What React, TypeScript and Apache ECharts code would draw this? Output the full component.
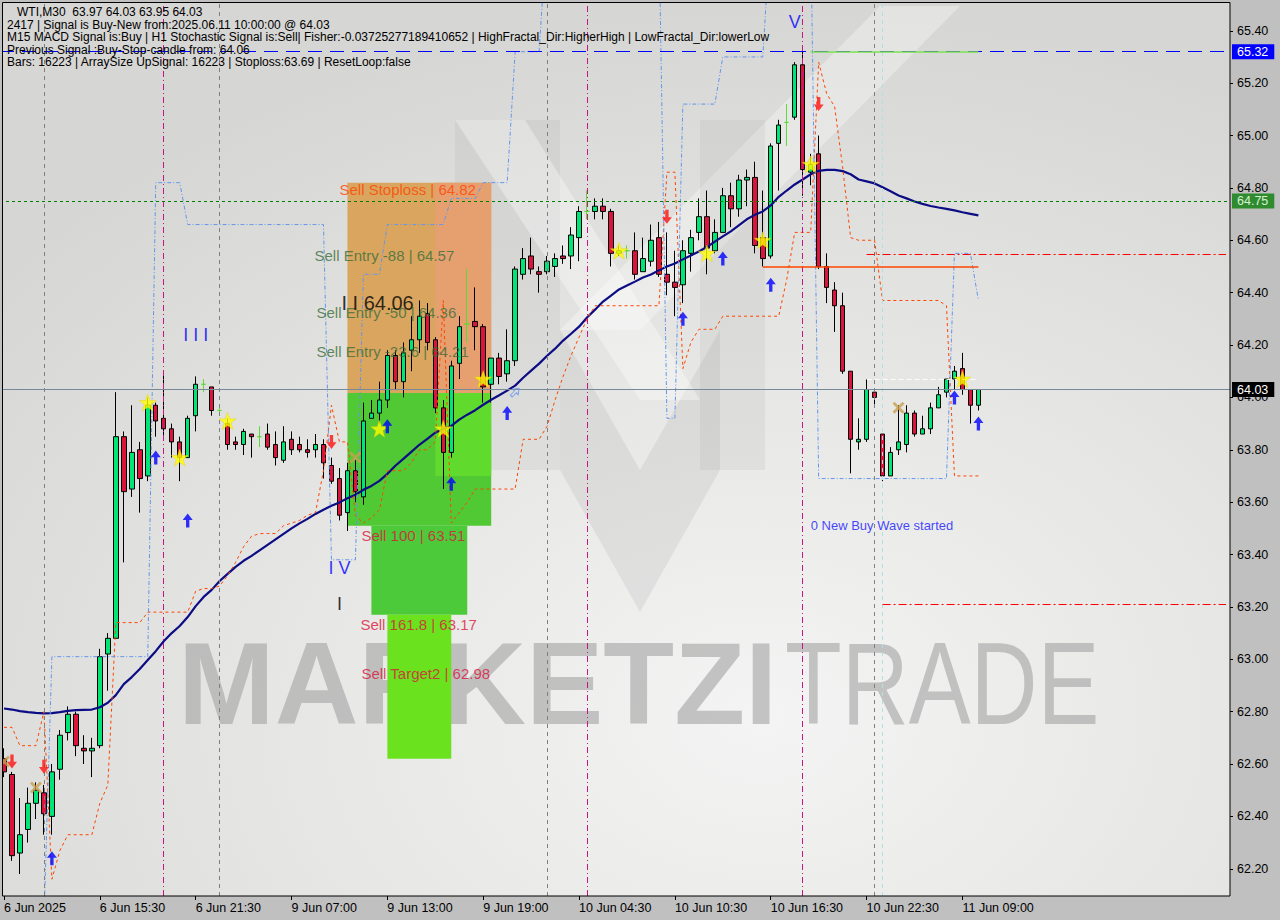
import React, { useEffect, useRef } from 'react';
import * as echarts from 'echarts';

const FONT = '"Liberation Sans", Arial, sans-serif';

// ---- axis data ----
const tickLabels = ['6 Jun 2025', '6 Jun 15:30', '6 Jun 21:30', '9 Jun 07:00', '9 Jun 13:00', '9 Jun 19:00',
  '10 Jun 04:30', '10 Jun 10:30', '10 Jun 16:30', '10 Jun 22:30', '11 Jun 09:00'];
const BARS_PER_TICK = 12;
const SLOT_COUNT = 154;
const Y_MIN = 62.096;
const Y_MAX = 65.506;
const yTicks = [62.2, 62.4, 62.6, 62.8, 63.0, 63.2, 63.4, 63.6, 63.8, 64.0, 64.2, 64.4, 64.6, 64.8, 65.0, 65.2, 65.4];

// ---- candles (WTI, M30) ----
const opens = [
  62.62, 62.56, 62.26, 62.35, 62.45, 62.49, 62.40, 62.58, 62.72, 62.79,
  62.66, 62.65, 62.67, 63.02, 63.08, 63.85, 63.65, 63.80, 63.70, 63.97,
  63.92, 63.88, 63.83, 63.77, 63.93, 64.05, 64.04, 63.95, 63.90, 63.83,
  63.82, 63.86, 63.85, 63.86, 63.82, 63.76, 63.84, 63.82, 63.80, 63.80,
  63.82, 63.74, 63.69, 63.56, 63.72, 63.62, 63.92, 63.94, 63.99, 64.16,
  64.06, 64.18, 64.22, 64.32, 64.22, 63.96, 63.79, 64.13, 64.28, 64.29,
  64.27, 64.05, 64.15, 64.09, 64.14, 64.47, 64.54, 64.48, 64.48, 64.50,
  64.54, 64.54, 64.61, 64.71, 64.71, 64.73, 64.71, 64.55, 64.56, 64.56,
  64.48, 64.52, 64.61, 64.47, 64.44, 64.43, 64.55, 64.63, 64.69, 64.56,
  64.63, 64.77, 64.72, 64.83, 64.84, 64.61, 64.54, 64.97, 65.05, 65.07,
  65.27, 64.86, 64.93, 64.50, 64.41, 64.35, 64.10, 63.83, 63.84, 64.02,
  63.86, 63.70, 63.80, 63.82, 63.94, 63.86, 63.88, 63.96, 64.02, 64.07,
  64.11, 64.03, 63.97];
const closes = [
  62.57, 62.25, 62.33, 62.45, 62.50, 62.41, 62.57, 62.71, 62.79, 62.67,
  62.65, 62.66, 63.01, 63.08, 63.85, 63.64, 63.79, 63.69, 63.97, 63.91,
  63.88, 63.83, 63.77, 63.92, 64.05, 64.05, 63.95, 63.95, 63.82, 63.82,
  63.87, 63.85, 63.85, 63.81, 63.77, 63.83, 63.80, 63.80, 63.79, 63.82,
  63.75, 63.68, 63.55, 63.72, 63.64, 63.91, 63.94, 63.99, 64.16, 64.06,
  64.17, 64.22, 64.31, 64.21, 63.96, 63.79, 64.12, 64.27, 64.28, 64.27,
  64.04, 64.15, 64.08, 64.14, 64.49, 64.53, 64.49, 64.47, 64.52, 64.53,
  64.53, 64.62, 64.71, 64.71, 64.73, 64.71, 64.55, 64.56, 64.56, 64.47,
  64.53, 64.60, 64.47, 64.44, 64.42, 64.56, 64.61, 64.69, 64.57, 64.63,
  64.77, 64.72, 64.83, 64.84, 64.58, 64.53, 64.96, 65.04, 65.05, 65.27,
  64.87, 64.89, 64.50, 64.42, 64.35, 64.10, 63.84, 63.84, 64.03, 64.00,
  63.70, 63.79, 63.83, 63.94, 63.86, 63.88, 63.96, 64.01, 64.07, 64.10,
  64.03, 63.97, 64.03];
const lows = [
  62.55, 62.23, 62.18, 62.30, 62.39, 62.33, 62.33, 62.54, 62.69, 62.63,
  62.60, 62.55, 62.66, 62.88, 63.08, 63.37, 63.62, 63.56, 63.68, 63.85,
  63.85, 63.77, 63.68, 63.77, 63.87, 64.02, 63.93, 63.94, 63.80, 63.80,
  63.78, 63.77, 63.81, 63.80, 63.74, 63.75, 63.78, 63.79, 63.77, 63.77,
  63.69, 63.67, 63.53, 63.49, 63.60, 63.59, 63.92, 63.90, 63.96, 64.03,
  64.00, 64.10, 64.17, 64.18, 63.94, 63.65, 63.77, 64.07, 64.21, 64.18,
  63.98, 63.98, 64.05, 64.06, 64.12, 64.45, 64.47, 64.40, 64.47, 64.46,
  64.51, 64.49, 64.52, 64.68, 64.68, 64.68, 64.50, 64.54, 64.53, 64.45,
  64.48, 64.50, 64.46, 64.39, 64.31, 64.36, 64.48, 64.60, 64.47, 64.55,
  64.63, 64.65, 64.69, 64.73, 64.55, 64.50, 64.53, 64.79, 64.96, 65.06,
  64.77, 64.81, 64.49, 64.36, 64.25, 64.09, 63.71, 63.80, 63.83, 63.96,
  63.68, 63.70, 63.78, 63.79, 63.85, 63.86, 63.86, 63.96, 64.00, 64.03,
  64.01, 63.90, 63.95];
const highs = [
  62.66, 62.57, 62.47, 62.51, 62.53, 62.52, 62.60, 62.73, 62.82, 62.80,
  62.71, 62.70, 63.04, 63.10, 64.02, 63.87, 63.97, 63.83, 64.00, 63.98,
  64.09, 63.90, 63.85, 63.93, 64.08, 64.07, 64.04, 63.96, 63.92, 63.85,
  63.88, 63.86, 63.89, 63.90, 63.87, 63.89, 63.87, 63.85, 63.84, 63.86,
  63.84, 63.77, 63.73, 63.75, 63.76, 63.98, 63.99, 64.06, 64.18, 64.18,
  64.21, 64.31, 64.37, 64.36, 64.23, 63.99, 64.14, 64.31, 64.49, 64.42,
  64.28, 64.15, 64.17, 64.26, 64.50, 64.57, 64.61, 64.50, 64.54, 64.55,
  64.58, 64.65, 64.73, 64.79, 64.76, 64.76, 64.72, 64.58, 64.58, 64.63,
  64.61, 64.66, 64.67, 64.63, 64.56, 64.60, 64.64, 64.76, 64.79, 64.68,
  64.80, 64.82, 64.85, 64.87, 64.90, 64.79, 64.97, 65.06, 65.12, 65.28,
  65.32, 64.93, 65.00, 64.55, 64.44, 64.40, 64.10, 63.92, 64.07, 64.02,
  63.86, 63.81, 63.97, 63.97, 63.95, 63.93, 63.98, 64.04, 64.07, 64.12,
  64.17, 64.03, 64.03];

// ---- indicator lines ----
const maLine = [
  62.812, 62.808, 62.802, 62.798, 62.795, 62.793, 62.794, 62.798, 62.803, 62.806,
  62.807, 62.808, 62.817, 62.834, 62.863, 62.905, 62.932, 62.963, 62.997, 63.031,
  63.069, 63.100, 63.127, 63.161, 63.203, 63.238, 63.265, 63.299, 63.326, 63.353,
  63.376, 63.395, 63.416, 63.437, 63.458, 63.479, 63.500, 63.519, 63.536, 63.555,
  63.571, 63.586, 63.599, 63.615, 63.628, 63.647, 63.662, 63.681, 63.708, 63.739,
  63.765, 63.792, 63.819, 63.842, 63.865, 63.880, 63.891, 63.915, 63.934, 63.951,
  63.972, 63.991, 64.008, 64.026, 64.045, 64.075, 64.102, 64.129, 64.159, 64.186,
  64.217, 64.243, 64.270, 64.305, 64.335, 64.366, 64.389, 64.412, 64.427, 64.442,
  64.458, 64.469, 64.485, 64.500, 64.511, 64.527, 64.542, 64.557, 64.574, 64.595,
  64.615, 64.634, 64.657, 64.680, 64.697, 64.710, 64.733, 64.766, 64.790, 64.813,
  64.832, 64.852, 64.865, 64.869, 64.869, 64.864, 64.852, 64.832, 64.825, 64.817,
  64.802, 64.787, 64.771, 64.760, 64.748, 64.739, 64.731, 64.725, 64.720, 64.714,
  64.707, 64.701, 64.695];
const stopLine = [
  62.74, 62.74, 62.67, 62.67, 62.67, 62.80, 62.16, 62.27, 62.33, 62.33,
  62.33, 62.33, 62.45, 62.52, 63.14, 63.14, 63.14, 63.14, 63.18, 63.18,
  63.18, 63.18, 63.18, 63.18, 63.26, 63.27, 63.27, 63.28, 63.32, 63.37,
  63.43, 63.47, 63.48, 63.48, 63.48, 63.51, 63.52, 63.53, 63.55, 63.56,
  63.72, 63.97, 63.83, 63.83, 63.55, 63.52, 63.54, 63.57, 63.72, 63.72,
  63.72, 63.75, 63.80, 63.80, 63.83, 64.37, 63.52, 63.56, 63.60, 63.65,
  63.65, 63.65, 63.65, 63.65, 63.65, 63.84, 63.84, 63.84, 63.89, 63.99,
  64.08, 64.16, 64.23, 64.30, 64.35, 64.35, 64.35, 64.35, 64.35, 64.35,
  64.35, 64.35, 64.35, 64.86, 64.86, 64.11, 64.21, 64.26, 64.26, 64.26,
  64.31, 64.31, 64.31, 64.31, 64.31, 64.31, 64.31, 64.31, 64.45, 64.63,
  64.63, 64.63, 65.28, 65.16, 65.11, 64.88, 64.61, 64.60, 64.60, 64.60,
  64.37, 64.37, 64.37, 64.37, 64.37, 64.37, 64.37, 64.37, 64.35, 63.70,
  63.70, 63.70, 63.70];
const waveLine = [
  null, null, null, null, null, 62.00, 63.01, 63.01, 63.01, 63.01,
  63.01, 63.01, 63.01, 63.01, 63.01, 63.01, 63.01, 63.01, 63.01, 64.82,
  64.82, 64.82, 64.82, 64.66, 64.66, 64.66, 64.66, 64.66, 64.66, 64.66,
  64.66, 64.66, 64.66, 64.66, 64.66, 64.66, 64.66, 64.66, 64.66, 64.66,
  64.66, 63.38, 63.38, 63.38, 63.38, 64.47, 64.47, 64.47, 64.66, 64.66,
  64.66, 64.66, 64.66, 64.66, 64.66, 64.66, 64.76, 64.76, 64.76, 64.76,
  64.82, 64.82, 64.82, 64.82, 65.32, 65.32, 65.32, 65.32, 65.80, 65.80,
  65.80, 65.80, 65.80, 65.80, 65.80, 65.80, 65.80, 65.80, 65.80, 65.80,
  65.80, 65.80, 65.80, 63.92, 63.92, 65.12, 65.12, 65.12, 65.12, 65.12,
  65.30, 65.30, 65.30, 65.30, 65.30, 65.30, 65.80, 65.80, 65.80, 65.80,
  65.80, 65.80, 63.69, 63.69, 63.69, 63.69, 63.69, 63.69, 63.69, 63.69,
  63.69, 63.69, 63.69, 63.69, 63.69, 63.69, 63.69, 63.69, 63.69, 64.55,
  64.55, 64.55, 64.37];

// ---- signal markers [bar index, price] ----
const starMarks = [[18, 63.98], [22, 63.77], [28, 63.91], [47, 63.88], [55, 63.88], [60, 64.07],
  [77, 64.56], [88, 64.55], [95, 64.60], [101, 64.89], [120, 64.07]];
const upArrows = [[6, 62.24], [19, 63.77], [23, 63.53], [48, 63.89], [56, 63.67], [63, 63.94],
  [85, 64.30], [90, 64.53], [96, 64.43], [119, 64.00], [122, 63.90]];
const downArrows = [[1, 62.61], [5, 62.59], [41, 63.83], [83, 64.69], [102, 65.12]];
const crossMarks = [[0, 62.61], [4, 62.51], [44, 63.77], [112, 63.96]];
const hollowArrows = [[64, 64.02]];

// ---- separators and levels ----
const magentaSeparators = [20, 73, 100];
const graySeparators = [5, 27, 68, 109];
const cyanSeparators = [110];

// ---- zones [fromBar, toBar, topPrice, bottomPrice, color] ----
const zones: [number, number, number, number, string][] = [
  [43, 61, 64.82, 64.017, '#d9a55f'],
  [54, 61, 64.82, 64.017, '#e6a070'],
  [43, 61, 64.017, 63.51, '#50c934'],
  [54, 61, 64.017, 63.70, '#60da2c'],
  [46, 58, 63.51, 63.17, '#4dca3a'],
  [48, 56, 63.17, 62.62, '#6be21e'],
];

// ---- text annotations [bar, price, text, color, size, align, dx] ----
const annotations: [number, number, string, string, number, string, number][] = [
  [42, 64.792, 'Sell Stoploss | 64.82', '#ff4500', 15, 'left', 0],
  [39, 64.543, 'Sell Entry -88 | 64.57', '#3a6e3a', 15, 'left', -1],
  [39, 64.326, 'Sell Entry -50 | 64.36', '#3a6e3a', 15, 'left', 1],
  [39, 64.177, 'Sell Entry -23.6 | 64.21', '#3a6e3a', 15, 'left', 1],
  [42, 64.36, 'I I 64.06', '#000000', 20, 'left', 2],
  [45, 63.474, 'Sell 100 | 63.51', '#dc143c', 15, 'left', -2],
  [45, 63.134, 'Sell 161.8 | 63.17', '#dc143c', 15, 'left', -3],
  [45, 62.944, 'Sell Target2 | 62.98', '#dc143c', 15, 'left', -2],
  [24, 64.238, 'I I I', '#0000ff', 18, 'center', 0],
  [42, 63.348, 'I V', '#0000ff', 18, 'center', 0],
  [99, 65.433, 'V', '#0000ff', 18, 'center', 0],
  [42, 63.211, 'I', '#000000', 18, 'center', 0],
  [101, 63.512, '0 New Buy Wave started', '#1414ff', 13, 'left', 0],
];

const infoLines = [
  '   WTI,M30  63.97 64.03 63.95 64.03',
  '2417 | Signal is Buy-New from:2025.06.11 10:00:00 @ 64.03',
  'M15 MACD Signal is:Buy | H1 Stochastic Signal is:Sell| Fisher:-0.03725277189410652 | HighFractal_Dir:HigherHigh | LowFractal_Dir:lowerLow',
  'Previous Signal :Buy-Stop-candle from: 64.06',
  'Bars: 16223 | ArraySize UpSignal: 16223 | Stoploss:63.69 | ResetLoop:false',
];

const STAR = 'path://M12,0 L14.9,8.3 L23.4,8.3 L16.6,13.5 L19.1,22 L12,16.9 L4.9,22 L7.4,13.5 L0.6,8.3 L9.1,8.3 Z';
const UP = 'path://M6,0 L12,7 L8,7 L8,15 L4,15 L4,7 L0,7 Z';
const DOWN = 'path://M4,0 L8,0 L8,8 L12,8 L6,15 L0,8 L4,8 Z';
const CROSS = 'path://M0,2 L2,0 L6,4 L10,0 L12,2 L8,6 L12,10 L10,12 L6,8 L2,12 L0,10 L4,6 Z';

function buildOption() {
  const categories = Array.from({ length: SLOT_COUNT }, (_, i) => String(i));
  const tickInterval = (index: number) => index % BARS_PER_TICK === 0 && index / BARS_PER_TICK < tickLabels.length;
  const candleData = opens.map((o, i) => [o, closes[i], lows[i], highs[i]]);

  const labelBox = (text: string, bg: string, fg: string) => ({
    show: true, position: 'end', distance: 2, formatter: text, backgroundColor: bg, color: fg,
    padding: [1, 6, 1, 5], fontSize: 12.5, fontFamily: FONT,
  });

  const markLineData: any[] = [
    ...magentaSeparators.map((i) => ({ xAxis: i, lineStyle: { color: '#c71585', type: [6, 3, 1, 3], width: 1 }, label: { show: false } })),
    ...graySeparators.map((i) => ({ xAxis: i, lineStyle: { color: '#808080', type: [4, 4], width: 1 }, label: { show: false } })),
    ...cyanSeparators.map((i) => ({ xAxis: i, lineStyle: { color: '#a8e4e4', type: [4, 4], width: 1 }, label: { show: false } })),
    { yAxis: 65.32, lineStyle: { color: '#0000ff', type: [14, 8], width: 1 }, label: labelBox('65.32', '#0000ff', '#ffffff') },
    { yAxis: 64.75, lineStyle: { color: '#008000', type: [3, 3], width: 1 }, label: labelBox('64.75', '#2e8b2e', '#d8f0d8') },
    { yAxis: 64.03, lineStyle: { color: '#778899', type: 'solid', width: 1 }, label: labelBox('64.03', '#000000', '#ffffff') },
    [{ coord: [108, 64.545], lineStyle: { color: '#ff0000', type: [8, 3, 2, 3], width: 1 }, label: { show: false } }, { coord: [153, 64.545] }],
    [{ coord: [110, 63.21], lineStyle: { color: '#ff0000', type: [8, 3, 2, 3], width: 1 }, label: { show: false } }, { coord: [153, 63.21] }],
    [{ coord: [95, 64.50], lineStyle: { color: '#ff4500', type: 'solid', width: 1.5 }, label: { show: false } }, { coord: [122, 64.50] }],
    [{ coord: [101, 65.32], lineStyle: { color: '#7fe050', type: 'solid', width: 1.5 }, label: { show: false } }, { coord: [122, 65.32] }],
    [{ coord: [108, 64.07], lineStyle: { color: 'rgba(255,255,255,0.9)', type: [5, 3], width: 1 }, label: { show: false } }, { coord: [122, 64.07] }],
  ];

  const markAreaData = zones.map(([a, b, top, bottom, color]) => [
    { xAxis: a, yAxis: top, itemStyle: { color, opacity: 1 } },
    { xAxis: b, yAxis: bottom },
  ]);

  const graphics: any[] = [
    {
      type: 'rect', z: -5, silent: true, shape: { x: 3, y: 3, width: 1227, height: 893 },
      style: {
        fill: {
          type: 'radial', x: 0.62, y: 0.8, r: 0.8,
          colorStops: [{ offset: 0, color: '#f4f4f4' }, { offset: 0.5, color: '#e6e6e4' }, { offset: 1, color: '#d6d6d4' }],
        },
      },
    },
    { type: 'polygon', z: -4, silent: true, shape: { points: [[880, 6], [960, 6], [640, 330], [560, 330]] }, style: { fill: 'rgba(255,255,255,0.32)' } },
    { type: 'polygon', z: -4, silent: true, shape: { points: [[455, 120], [560, 120], [560, 470], [455, 470]] }, style: { fill: 'rgba(150,150,150,0.12)' } },
    { type: 'polygon', z: -4, silent: true, shape: { points: [[700, 120], [765, 120], [765, 470], [700, 470]] }, style: { fill: 'rgba(150,150,150,0.12)' } },
    { type: 'polygon', z: -4, silent: true, shape: { points: [[560, 330], [640, 470], [720, 330], [720, 470], [640, 612], [560, 470]] }, style: { fill: 'rgba(150,150,150,0.16)' } },
    { type: 'polygon', z: -4, silent: true, shape: { points: [[455, 120], [525, 120], [700, 400], [640, 400]] }, style: { fill: 'rgba(255,255,255,0.35)' } },
    {
      type: 'text', z: -3, silent: true, x: 178, y: 684,
      style: { text: 'MARKETZI', font: `bold 116px ${FONT}`, fill: 'rgba(165,165,165,0.62)', verticalAlign: 'middle', align: 'left' },
    },
    {
      type: 'text', z: -3, silent: true, x: 785, y: 684, scaleX: 0.8,
      style: { text: 'TRADE', font: `116px ${FONT}`, fill: 'rgba(165,165,165,0.62)', verticalAlign: 'middle', align: 'left' },
    },
    ...infoLines.map((t, k) => ({
      type: 'text', z: 50, silent: true, x: 7, y: [12, 24.5, 37, 49.5, 61.5][k],
      style: { text: t, font: `12px ${FONT}`, fill: '#000000', verticalAlign: 'middle', align: 'left' },
    })),
    { type: 'rect', z: 99, silent: true, shape: { x: 0, y: 0, width: 2.5, height: 920 }, style: { fill: '#c0c0c0' } },
    { type: 'rect', z: 100, silent: true, shape: { x: 2.5, y: 2.5, width: 1227.5, height: 893.5 }, style: { fill: 'none', stroke: '#000000', lineWidth: 1 } },
  ];

  const scatterBase = { type: 'scatter', silent: true, z: 5, clip: true };

  return {
    animation: false,
    backgroundColor: '#c0c0c0',
    grid: { left: -0.5, right: 50, top: 3, bottom: 24, show: false },
    xAxis: {
      type: 'category', data: categories, boundaryGap: true,
      axisLine: { show: false },
      axisTick: { show: true, alignWithLabel: true, length: 4, interval: tickInterval, lineStyle: { color: '#000' } },
      axisLabel: {
        interval: tickInterval, align: 'left', margin: 5, color: '#000', fontSize: 12.5, fontFamily: FONT,
        formatter: (_v: string, index: number) => (index % BARS_PER_TICK === 0 ? tickLabels[index / BARS_PER_TICK] ?? '' : ''),
      },
      splitLine: { show: false },
    },
    yAxis: {
      type: 'value', position: 'right', min: Y_MIN, max: Y_MAX,
      axisLine: { show: false },
      axisTick: { show: true, length: 3, customValues: yTicks, lineStyle: { color: '#000' } },
      axisLabel: { customValues: yTicks, formatter: (v: number) => v.toFixed(2), margin: 7, color: '#000', fontSize: 12.5, fontFamily: FONT },
      splitLine: { show: false },
    },
    graphic: graphics,
    series: [
      {
        name: 'objects', type: 'line', data: [], z: 1, silent: true,
        markArea: { silent: true, data: markAreaData },
        markLine: { silent: true, symbol: ['none', 'none'], animation: false, data: markLineData },
      },
      {
        name: 'WTI', type: 'candlestick', data: candleData, z: 3, barWidth: 5, silent: true,
        itemStyle: {
          color: '#00e676', color0: '#dc143c', borderColor: '#000000', borderColor0: '#000000',
          borderColorDoji: '#5fd83a', borderWidth: 1,
        },
      },
      {
        name: 'MA', type: 'line', data: maLine, z: 4, showSymbol: false, silent: true,
        lineStyle: { color: '#0c0c84', width: 2.2 },
      },
      {
        name: 'Stop', type: 'line', data: stopLine, z: 4, showSymbol: false, silent: true,
        lineStyle: { color: '#ff4500', width: 1, type: [3, 3] },
      },
      {
        name: 'Wave', type: 'line', data: waveLine, z: 4, showSymbol: false, silent: true, connectNulls: false,
        lineStyle: { color: '#6495ed', width: 1, type: [4, 2, 1, 2] },
      },
      { ...scatterBase, name: 'stars', data: starMarks, symbol: STAR, symbolSize: 17, itemStyle: { color: '#ffff00', borderColor: '#e8d000', borderWidth: 0.5 } },
      { ...scatterBase, name: 'up', data: upArrows, symbol: UP, symbolSize: [10, 14], itemStyle: { color: '#0000ff' } },
      { ...scatterBase, name: 'down', data: downArrows, symbol: DOWN, symbolSize: [10, 14], itemStyle: { color: '#ff1010' } },
      { ...scatterBase, name: 'cross', data: crossMarks, symbol: CROSS, symbolSize: 12, itemStyle: { color: '#c8a050' } },
      { ...scatterBase, name: 'hollow', data: hollowArrows, symbol: UP, symbolSize: [8, 11], symbolRotate: -45, itemStyle: { color: 'rgba(0,0,0,0)', borderColor: '#6495ed', borderWidth: 1 } },
      {
        ...scatterBase, name: 'notes', z: 6, clip: false, symbolSize: 1, itemStyle: { color: 'rgba(0,0,0,0)' },
        data: annotations.map(([i, p, text, color, size, align, dx]) => ({
          value: [i, p],
          label: {
            show: true, position: 'inside', formatter: text, color, fontSize: size, fontFamily: FONT,
            align, verticalAlign: 'middle', offset: [dx, 0],
          },
        })),
      },
    ],
  };
}

export default function App() {
  const ref = useRef<HTMLDivElement>(null);
  useEffect(() => {
    if (!ref.current) return undefined;
    const chart = echarts.init(ref.current, undefined, { renderer: 'svg' });
    chart.setOption(buildOption() as any);
    return () => chart.dispose();
  }, []);
  return <div ref={ref} style={{ position: 'fixed', left: 0, top: 0, width: 1280, height: 920 }} />;
}
